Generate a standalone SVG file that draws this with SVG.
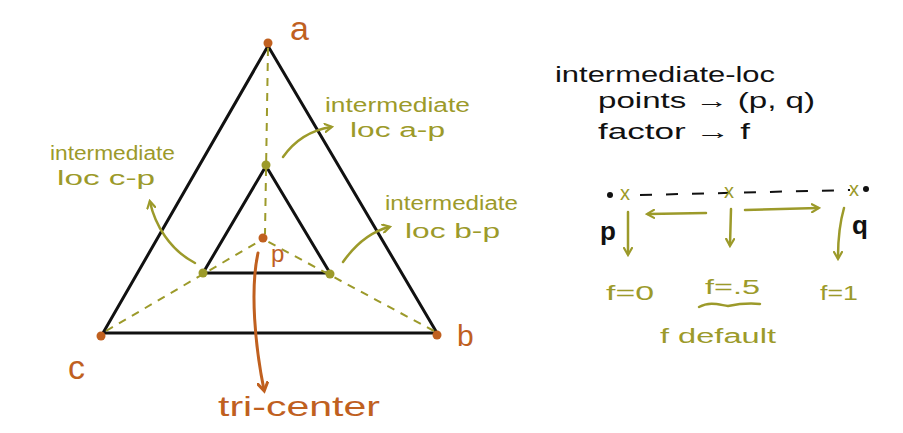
<svg xmlns="http://www.w3.org/2000/svg" width="903" height="433" viewBox="0 0 903 433">
<defs>
<style>
.bk{stroke:#111;stroke-width:3;fill:none;stroke-linecap:round}
.dash{stroke:#9c9a2a;stroke-width:2;fill:none;stroke-dasharray:8 7}
.ol{stroke:#9c9a2a;stroke-width:2.5;fill:none;stroke-linecap:round}
.or{stroke:#c0601f;stroke-width:3;fill:none;stroke-linecap:round}
.tol{fill:#9c9a2a;font-family:"Liberation Sans",Arial,sans-serif;font-size:20px}
.tor{fill:#c0601f;font-family:"Liberation Sans",Arial,sans-serif}
.tbk{fill:#111;font-family:"Liberation Sans",Arial,sans-serif;font-size:22px}
</style>
<marker id="ao" markerWidth="10" markerHeight="10" refX="7" refY="5" orient="auto" markerUnits="userSpaceOnUse"><path d="M1,1 L8,5 L1,9" fill="none" stroke="#9c9a2a" stroke-width="2.2" stroke-linecap="round"/></marker>
<marker id="ar" markerWidth="12" markerHeight="12" refX="8" refY="6" orient="auto" markerUnits="userSpaceOnUse"><path d="M1,1 L9,6 L1,11" fill="none" stroke="#c0601f" stroke-width="3" stroke-linecap="round"/></marker>
</defs>
<rect width="903" height="433" fill="#fff"/>

<g id="outer-triangle">
<path class="bk" d="M268,46 L437,333 L103,333 Z"/>
</g>
<g id="inner-triangle">
<path class="bk" d="M266,166 L330,273 L203,273 Z"/>
</g>

<g id="connectors">
<path class="dash" d="M268,48 L265,234"/>
<path class="dash" d="M106,331 L263,239"/>
<path class="dash" d="M434,331 L263,239"/>
<path class="ol" marker-end="url(#ao)" d="M195,263 C170,250 155,225 150,202"/>
<path class="ol" marker-end="url(#ao)" d="M283,157 C295,140 312,130 331,127"/>
<path class="ol" marker-end="url(#ao)" d="M343,262 C355,245 370,232 389,227"/>
<path class="or" marker-end="url(#ar)" d="M258,253 C250,290 255,345 264,390"/>
<path stroke="#111" stroke-width="2" stroke-dasharray="12 14" fill="none" d="M640,195 L850,190"/>
<path class="ol" marker-end="url(#ao)" d="M706,213 L648,214"/>
<path class="ol" marker-end="url(#ao)" d="M745,210 L818,208"/>
<path class="ol" marker-end="url(#ao)" d="M628,212 L628,254"/>
<path class="ol" marker-end="url(#ao)" d="M731,209 L730,245"/>
<path class="ol" marker-end="url(#ao)" d="M844,208 C840,222 838,240 838,258"/>
<path class="ol" d="M699,307 C710,301 720,305 728,306 C738,304 750,303 760,304"/>
</g>

<g id="node-a">
<circle cx="268" cy="43" r="4.5" fill="#c0601f"/>
<text class="tor" x="290" y="40" font-size="34">a</text>
</g>
<g id="node-b">
<circle cx="437" cy="335" r="4.5" fill="#c0601f"/>
<text class="tor" x="457" y="346" font-size="30">b</text>
</g>
<g id="node-c">
<circle cx="101" cy="336" r="4.5" fill="#c0601f"/>
<text class="tor" x="68" y="379" font-size="34">c</text>
</g>
<g id="node-p">
<circle cx="263" cy="238" r="4.5" fill="#c0601f"/>
<text class="tor" x="271" y="262" font-size="24">p</text>
</g>
<g id="tri-center-label">
<text class="tor" x="218" y="416" font-size="28" textLength="162" lengthAdjust="spacingAndGlyphs">tri-center</text>
</g>

<g id="inner-points">
<circle cx="266" cy="165" r="4.5" fill="#9c9a2a"/>
<circle cx="203" cy="273" r="4.5" fill="#9c9a2a"/>
<circle cx="330" cy="274" r="4.5" fill="#9c9a2a"/>
</g>

<g id="label-cp">
<text class="tol" x="50" y="160" textLength="125" lengthAdjust="spacingAndGlyphs">intermediate</text>
<text class="tol" x="57" y="185" textLength="98" lengthAdjust="spacingAndGlyphs">loc c-p</text>
</g>
<g id="label-ap">
<text class="tol" x="325" y="112" textLength="145" lengthAdjust="spacingAndGlyphs">intermediate</text>
<text class="tol" x="350" y="137" textLength="95" lengthAdjust="spacingAndGlyphs">loc a-p</text>
</g>
<g id="label-bp">
<text class="tol" x="385" y="210" textLength="133" lengthAdjust="spacingAndGlyphs">intermediate</text>
<text class="tol" x="405" y="238" textLength="95" lengthAdjust="spacingAndGlyphs">loc b-p</text>
</g>

<g id="legend-text">
<text class="tbk" x="555" y="82" font-size="26" textLength="220" lengthAdjust="spacingAndGlyphs">intermediate-loc</text>
<text class="tbk" x="598" y="108" font-size="24" textLength="217" lengthAdjust="spacingAndGlyphs">points → (p, q)</text>
<text class="tbk" x="598" y="139" font-size="24" textLength="152" lengthAdjust="spacingAndGlyphs">factor → f</text>
</g>

<g id="point-p">
<circle cx="610" cy="195" r="3" fill="#111"/>
<text x="600" y="240" font-family="Liberation Sans,Arial,sans-serif" font-size="26" font-weight="bold" fill="#111">p</text>
</g>
<g id="point-q">
<circle cx="866" cy="189" r="3" fill="#111"/>
<text x="852" y="234" font-family="Liberation Sans,Arial,sans-serif" font-size="26" font-weight="bold" fill="#111">q</text>
</g>
<g id="marks">
<text class="tol" x="620" y="200" font-size="18">x</text>
<text class="tol" x="724" y="198" font-size="18">x</text>
<text class="tol" x="849" y="196" font-size="18">x</text>
</g>
<g id="factor-labels">
<text class="tol" x="606" y="300" font-size="22" textLength="48" lengthAdjust="spacingAndGlyphs">f=0</text>
<text class="tol" x="705" y="294" font-size="22" textLength="55" lengthAdjust="spacingAndGlyphs">f=.5</text>
<text class="tol" x="820" y="300" font-size="22" textLength="38" lengthAdjust="spacingAndGlyphs">f=1</text>
<text class="tol" x="660" y="343" font-size="22" textLength="116" lengthAdjust="spacingAndGlyphs">f default</text>
</g>
</svg>
